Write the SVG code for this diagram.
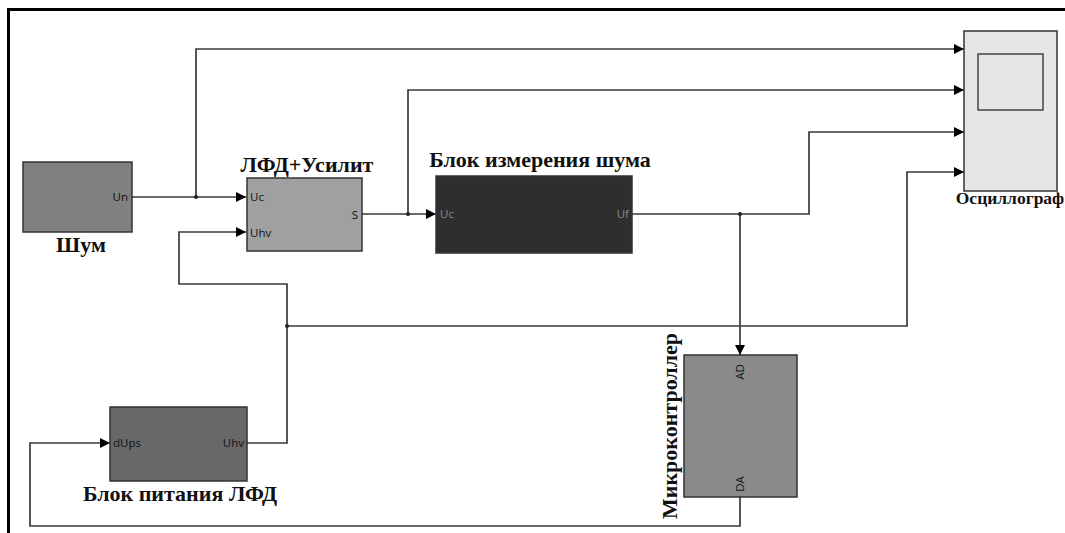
<svg xmlns="http://www.w3.org/2000/svg" width="1065" height="533" viewBox="0 0 1065 533">
<style>
.blk{stroke:#333;stroke-width:1.5}
.w{fill:none;stroke:#3a3a3a;stroke-width:1.7}
.t{font-family:"Liberation Serif","Times New Roman",serif;font-weight:bold;font-size:22px;fill:#111}
.p{font-family:"Open Sans","DejaVu Sans",sans-serif;font-size:11.5px;fill:#111}
.pd{font-family:"Open Sans","DejaVu Sans",sans-serif;font-size:11.5px;fill:#8a8a8a}
.dot{fill:#222}
</style>
<defs>
<marker id="ah" viewBox="0 0 10 10" refX="10" refY="5" markerWidth="10" markerHeight="10" markerUnits="userSpaceOnUse" orient="auto">
<path d="M0,0 L10,5 L0,10 z" fill="#000"/>
</marker>
</defs>
<rect width="1065" height="533" fill="#fff"/>
<g id="frame">
<line x1="7" y1="9.5" x2="1065" y2="9.5" stroke="#000" stroke-width="3"/>
<line x1="8.5" y1="8" x2="8.5" y2="533" stroke="#000" stroke-width="3"/>
</g>
<g id="connectors">
<path class="w" d="M132,197 H246" marker-end="url(#ah)"/>
<path class="w" d="M196,197 V49 H964" marker-end="url(#ah)"/>
<path class="w" d="M362,214 H436" marker-end="url(#ah)"/>
<path class="w" d="M408,214 V90 H964" marker-end="url(#ah)"/>
<path class="w" d="M632,214 H809 V132 H964" marker-end="url(#ah)"/>
<path class="w" d="M740,214 V355" marker-end="url(#ah)"/>
<path class="w" d="M247,443 H287 V284 H179 V232 H246" marker-end="url(#ah)"/>
<path class="w" d="M287,326 H907 V172 H964" marker-end="url(#ah)"/>
<path class="w" d="M740,497 V526 H30 V443 H110" marker-end="url(#ah)"/>
<circle class="dot" cx="196" cy="197" r="2"/>
<circle class="dot" cx="408" cy="214" r="2"/>
<circle class="dot" cx="740" cy="214" r="2"/>
<circle class="dot" cx="287" cy="326" r="2"/>
</g>
<g id="shum">
<rect class="blk" x="23" y="162" width="109" height="70" fill="#808080"/>
<text class="p" x="128" y="201" text-anchor="end">Un</text>
<text class="t" x="81" y="252" text-anchor="middle">Шум</text>
</g>
<g id="lfd">
<rect class="blk" x="247" y="178" width="115" height="73" fill="#a0a0a0"/>
<text class="p" x="250" y="201">Uc</text>
<text class="p" x="250" y="237">Uhv</text>
<text class="p" x="358" y="219" text-anchor="end">S</text>
<text class="t" x="307" y="172" text-anchor="middle">ЛФД+Усилит</text>
</g>
<g id="noise">
<rect class="blk" x="436" y="176" width="196" height="77" fill="#2e2e2e"/>
<text class="pd" x="440" y="218">Uc</text>
<text class="pd" x="629" y="218" text-anchor="end">Uf</text>
<text class="t" x="540" y="167" text-anchor="middle">Блок измерения шума</text>
</g>
<g id="osc">
<rect class="blk" x="964" y="31" width="93" height="160" fill="#e6e6e6"/>
<rect x="978" y="54" width="65" height="56" fill="#e6e6e6" stroke="#444" stroke-width="1.5"/>
<text class="t" x="1010" y="204" text-anchor="middle" style="font-size:17.5px">Осциллограф</text>
</g>
<g id="power">
<rect class="blk" x="110" y="407" width="137" height="74" fill="#686868"/>
<text class="p" x="113" y="447">dUps</text>
<text class="p" x="244" y="447" text-anchor="end">Uhv</text>
<text class="t" x="180" y="501" text-anchor="middle">Блок питания ЛФД</text>
</g>
<g id="mcu">
<rect class="blk" x="684" y="355" width="113" height="142" fill="#8a8a8a"/>
<text class="p" transform="translate(744,372) rotate(-90)" text-anchor="middle">AD</text>
<text class="p" transform="translate(744,484) rotate(-90)" text-anchor="middle">DA</text>
<text class="t" transform="translate(677,426) rotate(-90)" text-anchor="middle">Микроконтроллер</text>
</g>
</svg>
